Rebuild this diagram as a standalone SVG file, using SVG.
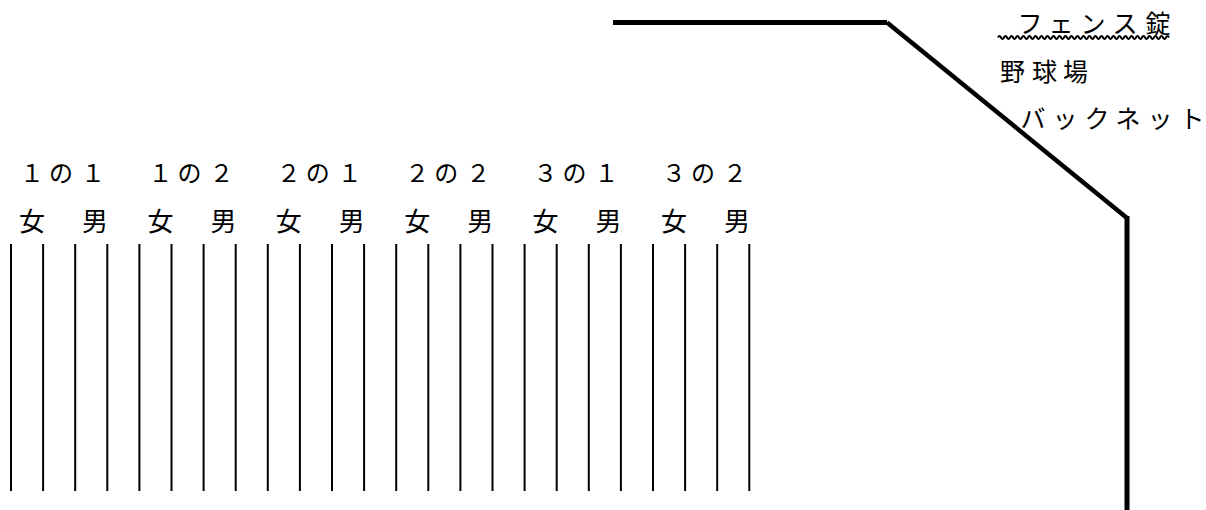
<svg xmlns="http://www.w3.org/2000/svg" width="1206" height="510" viewBox="0 0 1206 510">
<style>
.t{font-family:"Noto Sans CJK JP","Noto Sans CJK SC",sans-serif;fill:#000;text-anchor:middle;}
.r1{font-size:24px;}
.r2{font-size:26px;}
.lbl{font-size:25px;}
.col{stroke:#000;stroke-width:2;fill:none;}
.wall{stroke:#000;fill:none;stroke-linejoin:miter;stroke-linecap:butt;}
</style>
<rect width="1206" height="510" fill="#fff"/>
<g id="fence">
<path class="wall" d="M613,22.5 H887" stroke-width="5"/>
<path class="wall" d="M887,22.5 L1127,218" stroke-width="4.5"/>
<path class="wall" d="M1127,216 V510" stroke-width="5"/>
</g>
<g id="labels">
<text class="t lbl" y="33" x="1030 1061 1093 1125 1158">フェンス錠</text>
<path d="M998,37.5 q1.5,-3 3,0 t3,0 t3,0 t3,0 t3,0 t3,0 t3,0 t3,0 t3,0 t3,0 t3,0 t3,0 t3,0 t3,0 t3,0 t3,0 t3,0 t3,0 t3,0 t3,0 t3,0 t3,0 t3,0 t3,0 t3,0 t3,0 t3,0 t3,0 t3,0 t3,0 t3,0 t3,0 t3,0 t3,0 t3,0 t3,0 t3,0 t3,0 t3,0 t3,0 t3,0 t3,0 t3,0 t3,0 t3,0 t3,0 t3,0 t3,0 t3,0 t3,0 t3,0 t3,0 t3,0 t3,0 t3,0 t3,0 t3,0 t3" stroke="#000" stroke-width="2" fill="none"/>
<text class="t lbl" y="81" x="1012.5 1044.5 1075.5">野球場</text>
<text class="t lbl" y="128" x="1033 1065 1097 1128 1160 1192">バックネット</text>
</g>
<g id="classes">
<text class="t r1" y="182" x="32 61 93">１の１</text>
<text class="t r1" y="182" x="160.4 189.4 221.4">１の２</text>
<text class="t r1" y="182" x="288.8 317.8 349.8">２の１</text>
<text class="t r1" y="182" x="417.2 446.2 478.2">２の２</text>
<text class="t r1" y="182" x="545.6 574.6 606.6">３の１</text>
<text class="t r1" y="182" x="674 703 735">３の２</text>
</g>
<g id="genders">
<text class="t r2" y="231" x="32 95">女男</text>
<text class="t r2" y="231" x="160.4 223.4">女男</text>
<text class="t r2" y="231" x="288.8 351.8">女男</text>
<text class="t r2" y="231" x="417.2 480.2">女男</text>
<text class="t r2" y="231" x="545.6 608.6">女男</text>
<text class="t r2" y="231" x="674 737">女男</text>
</g>
<g id="connectors">
<path class="col" d="M11,244V491M43.1,244V491M75.2,244V491M107.3,244V491M139.4,244V491M171.5,244V491M203.6,244V491M235.7,244V491M267.8,244V491M299.9,244V491M332,244V491M364.1,244V491M396.2,244V491M428.3,244V491M460.4,244V491M492.5,244V491M524.6,244V491M556.7,244V491M588.8,244V491M620.9,244V491M653,244V491M685.1,244V491M717.2,244V491M749.3,244V491"/>
</g>
</svg>
